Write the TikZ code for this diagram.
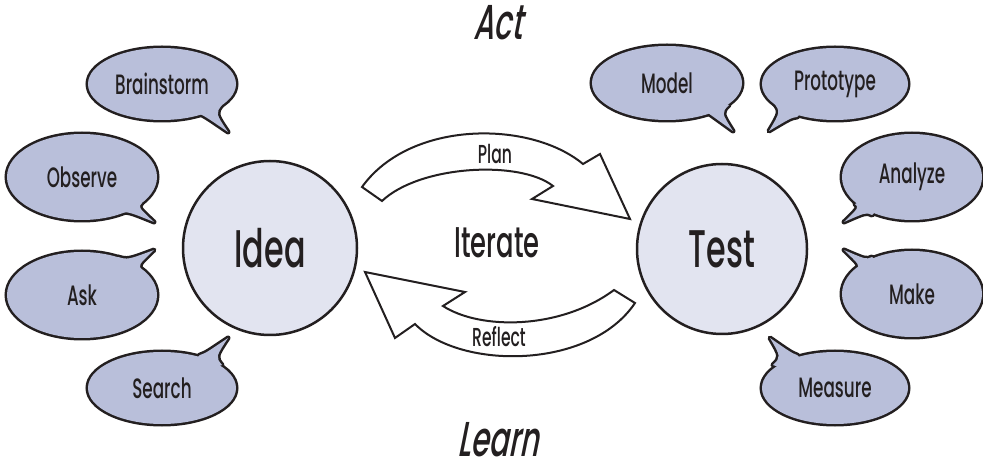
\documentclass[tikz,border=0pt]{standalone}
\usepackage{fontspec}
\setmainfont{Poppins}[FakeStretch=0.6, BoldFont={Poppins Medium}, BoldFeatures={FakeStretch=0.6}]
\newfontfamily\slfont{Poppins Medium}[FakeStretch=0.6, FakeSlant=0.2]
\usetikzlibrary{calc}
\definecolor{bub}{RGB}{185,191,218}
\definecolor{circ}{RGB}{226,228,240}
\definecolor{ink}{RGB}{35,31,32}
\tikzset{
  bubtext/.style={text=ink, font=\bfseries\fontsize{28}{30}\selectfont, inner sep=0pt},
  bigcircle/.style={circle, draw=ink, fill=circ, line width=2.5pt, minimum size=174pt, inner sep=0pt, text=ink, font=\bfseries\fontsize{53}{56}\selectfont},
  blockarrow/.style={draw=ink, fill=white, line width=2pt, line join=miter},
  arrowlabel/.style={text=ink, font=\bfseries\fontsize{26}{28}\selectfont, inner sep=0pt},
  headline/.style={text=ink, font=\slfont\fontsize{49}{52}\selectfont, inner sep=0pt, anchor=base}
}
% #1 name, #2 centre, #3 rx, #4 ry, #5 tail start, #6 tail tip, #7 tail end, #8 text
\newcommand\speech[8]{%
  \draw[ink, line width=5pt] (#2) ellipse [x radius=#3pt, y radius=#4pt];
  \draw[ink, line width=5pt, line join=round] (#5) .. controls ($(#5)!.5!(#6)!.15!(#2)$) .. (#6) .. controls ($(#6)!.5!(#7)!.15!(#2)$) .. (#7) -- (#2) -- cycle;
  \fill[bub] (#2) ellipse [x radius=#3pt, y radius=#4pt];
  \fill[bub] (#5) .. controls ($(#5)!.5!(#6)!.15!(#2)$) .. (#6) .. controls ($(#6)!.5!(#7)!.15!(#2)$) .. (#7) -- (#2) -- cycle;
  \node[bubtext] (#1) at (#2) {#8};
}
\begin{document}
\begin{tikzpicture}[x=1pt, y=-1pt]
\useasboundingbox (0,0) rectangle (983,470);

% left bubbles
\speech{brainstorm}{162,84}{74}{36}{200,114}{228,132}{222,105}{Brainstorm}
\speech{observe}{82,177}{75}{43}{118,213}{154,222}{142,203}{Observe}
\speech{ask}{82,295}{75}{43}{142,270}{154,250}{118,257}{Ask}
\speech{search}{162,388}{74}{36}{200,355}{228,338}{222,365}{Search}

% right bubbles
\speech{model}{667,83}{75}{37}{708,113}{733,131}{729,105}{Model}
\speech{prototype}{835,84}{73}{36}{797,117}{769,131}{773,102}{Prototype}
\speech{analyze}{912,177}{70}{43}{872,215}{844,222}{855,204}{Analyze}
\speech{make}{912,294}{70}{43}{857,270}{844,250}{872,257}{Make}
\speech{measure}{835,388}{73}{36}{773,365}{770,338}{797,355}{Measure}

% circles
\node[bigcircle] (idea) at (270,248) {Idea};
\node[bigcircle, minimum size=170pt] (test) at (722,249) {Test};

% block arrows
\draw[blockarrow] (362,187) .. controls (410,120) and (530,120) .. (583,164)
  -- (600,154) -- (630,219) -- (532,199) -- (553,186)
  .. controls (520,160) and (420,165) .. (382,201) -- cycle;
\draw[blockarrow] (365,272) -- (465,292) -- (443,306)
  .. controls (480,330) and (560,330) .. (614,290) -- (635,303)
  .. controls (590,370) and (460,370) .. (415,324) -- (395,338) -- cycle;

\node[arrowlabel] (plan) at (495,154) {Plan};
\node[arrowlabel] (reflect) at (499,337) {Reflect};
\node[text=ink, font=\bfseries\fontsize{43}{46}\selectfont, inner sep=0pt] (iterate) at (497,243) {Iterate};

\node[headline] (act) at (498,40) {Act};
\node[headline] (learn) at (498,456) {Learn};
\end{tikzpicture}
\end{document}
